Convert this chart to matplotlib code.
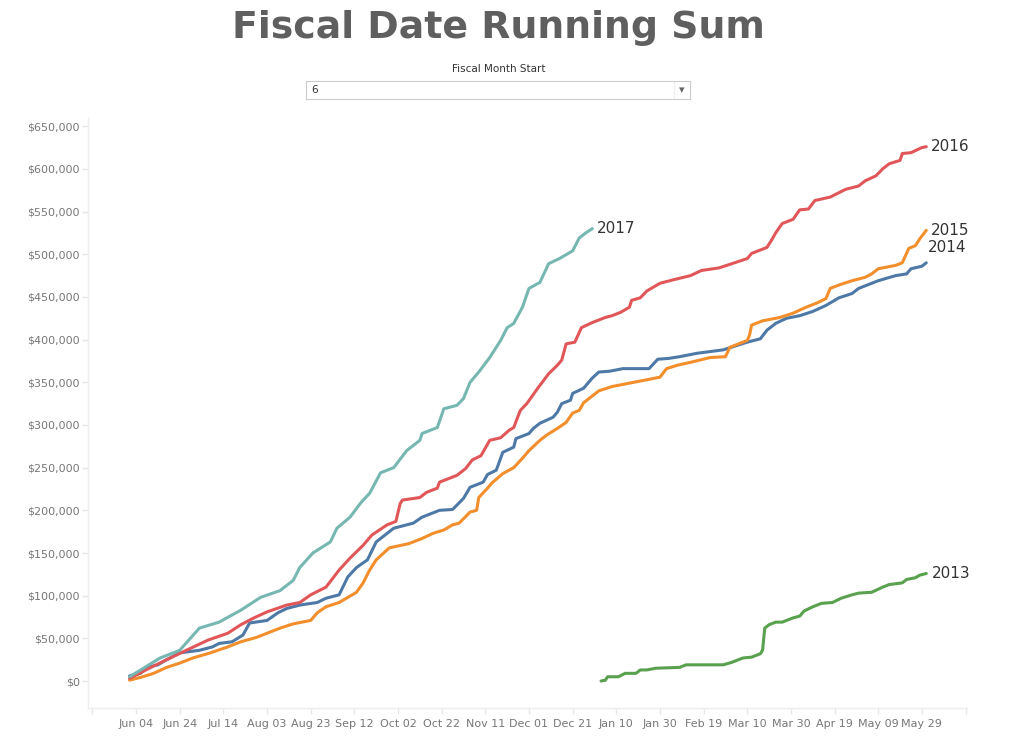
import numpy as np
import pandas as pd
import matplotlib
matplotlib.use("Agg")
import matplotlib.pyplot as plt
from matplotlib.ticker import FixedLocator, FuncFormatter

# days since fiscal start (Jun 01) and running sum in dollars
days_2017 = [0, 14, 23, 32, 41, 51, 60, 69, 75, 78, 84, 92, 95, 101, 106, 110, 115, 121, 127, 133,
             134, 141, 144, 150, 153, 156, 160, 165, 170, 173, 176, 180, 183, 188, 192, 197, 203,
             206, 209, 212]
sum_2017 = [5, 27, 36, 62, 69, 83, 98, 106, 118, 133, 150, 163, 179, 192, 209, 220, 244, 250, 270, 282,
            290, 297, 319, 323, 331, 350, 362, 379, 399, 414, 419, 438, 460, 467, 489, 495, 504,
            519, 525, 530]

days_2016 = [0, 9, 17, 26, 36, 45, 51, 57, 63, 72, 78, 83, 90, 96, 101, 107, 111, 118, 122, 124,
             125, 133, 136, 141, 142, 150, 154, 157, 161, 165, 170, 174, 176, 179, 182, 187, 192,
             196, 198, 200, 204, 207, 212, 218, 221, 225, 229, 230, 234, 237, 243, 249, 257, 262,
             270, 276, 283, 285, 292, 294, 296, 299, 304, 307, 311, 314, 321, 328, 334, 337, 342,
             345, 348, 353, 354, 358, 363, 365]
sum_2016 = [3, 15, 25, 36, 48, 56, 66, 74, 81, 89, 92, 101, 110, 130, 144, 159, 171, 183, 187, 208,
            212, 215, 221, 226, 233, 241, 249, 259, 264, 282, 285, 294, 297, 317, 325, 343, 360,
            370, 376, 395, 397, 414, 420, 426, 428, 432, 438, 446, 449, 457, 466, 470, 475, 481,
            484, 489, 495, 501, 508, 516, 525, 536, 541, 552, 553, 563, 567, 576, 580, 586, 592,
            600, 606, 610, 618, 619, 625, 626]

days_2015 = [0, 6, 11, 17, 23, 29, 37, 45, 51, 58, 63, 69, 75, 83, 86, 90, 96, 104, 107, 110, 113,
             119, 128, 134, 139, 144, 148, 151, 156, 159, 160, 164, 166, 171, 176, 180, 183, 188,
             191, 196, 200, 203, 206, 208, 211, 215, 221, 229, 235, 243, 246, 251, 258, 266, 273,
             275, 278, 283, 284, 285, 290, 298, 304, 310, 315, 319, 321, 325, 331, 337, 340, 343,
             351, 354, 357, 360, 362, 365]
sum_2015 = [1, 5, 9, 16, 21, 27, 33, 40, 46, 51, 56, 62, 67, 71, 80, 87, 92, 104, 115, 130, 142,
            156, 161, 167, 173, 177, 183, 185, 198, 200, 215, 226, 232, 243, 250, 261, 270, 282,
            288, 296, 303, 314, 317, 326, 332, 340, 345, 349, 352, 356, 366, 370, 374, 379, 380,
            391, 394, 399, 405, 417, 422, 426, 431, 438, 443, 448, 460, 464, 469, 473, 477, 483,
            487, 490, 507, 510, 518, 528]

days_2014 = [0, 5, 8, 13, 17, 23, 32, 38, 41, 47, 52, 55, 63, 68, 72, 78, 86, 90, 96, 100, 104,
             109, 113, 118, 121, 130, 134, 142, 148, 153, 156, 162, 164, 168, 171, 176, 177, 183,
             185, 188, 194, 196, 198, 202, 203, 208, 212, 215, 220, 226, 238, 242, 247, 252, 260,
             266, 272, 278, 283, 289, 292, 296, 301, 307, 313, 319, 325, 331, 334, 340, 343, 351,
             356, 358, 363, 365]
sum_2014 = [6, 9, 16, 19, 25, 33, 36, 40, 44, 46, 54, 68, 71, 80, 85, 89, 92, 97, 101, 122, 133,
            142, 163, 173, 179, 185, 192, 200, 201, 214, 227, 233, 242, 247, 268, 274, 284, 290,
            296, 302, 309, 315, 325, 329, 337, 343, 355, 362, 363, 366, 366, 377, 378, 380, 384,
            386, 388, 393, 397, 401, 411, 419, 425, 428, 433, 440, 449, 454, 460, 466, 469, 475,
            477, 483, 486, 490]

days_2013 = [216, 218, 219, 224, 227, 232, 234, 237, 241, 252, 255, 272, 276, 281, 285, 289, 290,
             291, 293, 296, 299, 304, 307, 309, 313, 317, 322, 326, 331, 334, 340, 345, 348, 354,
             356, 360, 362, 365]
sum_2013 = [0, 1, 5, 5, 9, 9, 13, 13, 15, 16, 19, 19, 22, 27, 28, 32, 36, 62, 66, 69, 69, 74, 76,
            82, 87, 91, 92, 97, 101, 103, 104, 110, 113, 115, 119, 121, 124, 126]

series = [
    ("2013", days_2013, sum_2013, "#59a14f", (4, 0)),
    ("2014", days_2014, sum_2014, "#4e79a7", (1, 11)),
    ("2015", days_2015, sum_2015, "#f28e2b", (3, 0)),
    ("2016", days_2016, sum_2016, "#e15759", (3, 0)),
    ("2017", days_2017, sum_2017, "#76b7b2", (3, 0)),
]

fiscal_start = pd.Timestamp("2015-06-01")
tick_days = list(range(-17, 384, 20))
y_ticks = list(range(0, 650001, 50000))

fig = plt.figure(figsize=(10.24, 7.52), dpi=100)
ax = fig.add_axes([0.086, 0.0585, 0.858, 0.785])

for name, d, s, color, offset in series:
    vals = np.array(s) * 1000
    ax.plot(d, vals, color=color, lw=2.2, solid_joinstyle="round", solid_capstyle="round")
    ax.annotate(name, (d[-1], vals[-1]), xytext=offset, textcoords="offset points",
                ha="left", va="center", fontsize=11, color="#333333")

ax.set_xlim(-19, 383.5)
ax.set_ylim(-31600, 660000)

ax.xaxis.set_major_locator(FixedLocator(tick_days))
labels = []
for t in tick_days:
    if t < 0 or t > 365:
        labels.append("")
    else:
        labels.append((fiscal_start + pd.Timedelta(days=t)).strftime("%b %d"))
ax.set_xticklabels(labels)
ax.yaxis.set_major_locator(FixedLocator(y_ticks))
ax.yaxis.set_major_formatter(FuncFormatter(lambda v, p: "${:,.0f}".format(v)))

for sp in ["top", "right"]:
    ax.spines[sp].set_visible(False)
for sp in ["left", "bottom"]:
    ax.spines[sp].set_color("#eeeeee")
    ax.spines[sp].set_linewidth(1)
ax.tick_params(axis="both", colors="#e6e6e6", labelcolor="#777777", labelsize=8, length=4, width=1)
ax.tick_params(axis="x", pad=4)
ax.tick_params(axis="y", pad=2)

fig.text(0.487, 0.963, "Fiscal Date Running Sum", ha="center", va="center",
         fontsize=27.3, fontweight="bold", color="#5f5f5f")
fig.text(0.487, 0.908, "Fiscal Month Start", ha="center", va="center",
         fontsize=7.5, color="#333333")

# dropdown box
dd = fig.add_axes([306 / 1024, 1 - 99 / 752, 384 / 1024, 18 / 752])
dd.set_xticks([])
dd.set_yticks([])
for sp in dd.spines.values():
    sp.set_color("#cccccc")
dd.set_xlim(0, 384)
dd.set_ylim(0, 18)
dd.text(5, 9, "6", ha="left", va="center", fontsize=7.5, color="#333333")
dd.axvline(368, color="#eeeeee", lw=1)
dd.text(376, 8.5, "\u25be", ha="center", va="center", fontsize=8, color="#666666")

fig.savefig("out.png", dpi=100)
